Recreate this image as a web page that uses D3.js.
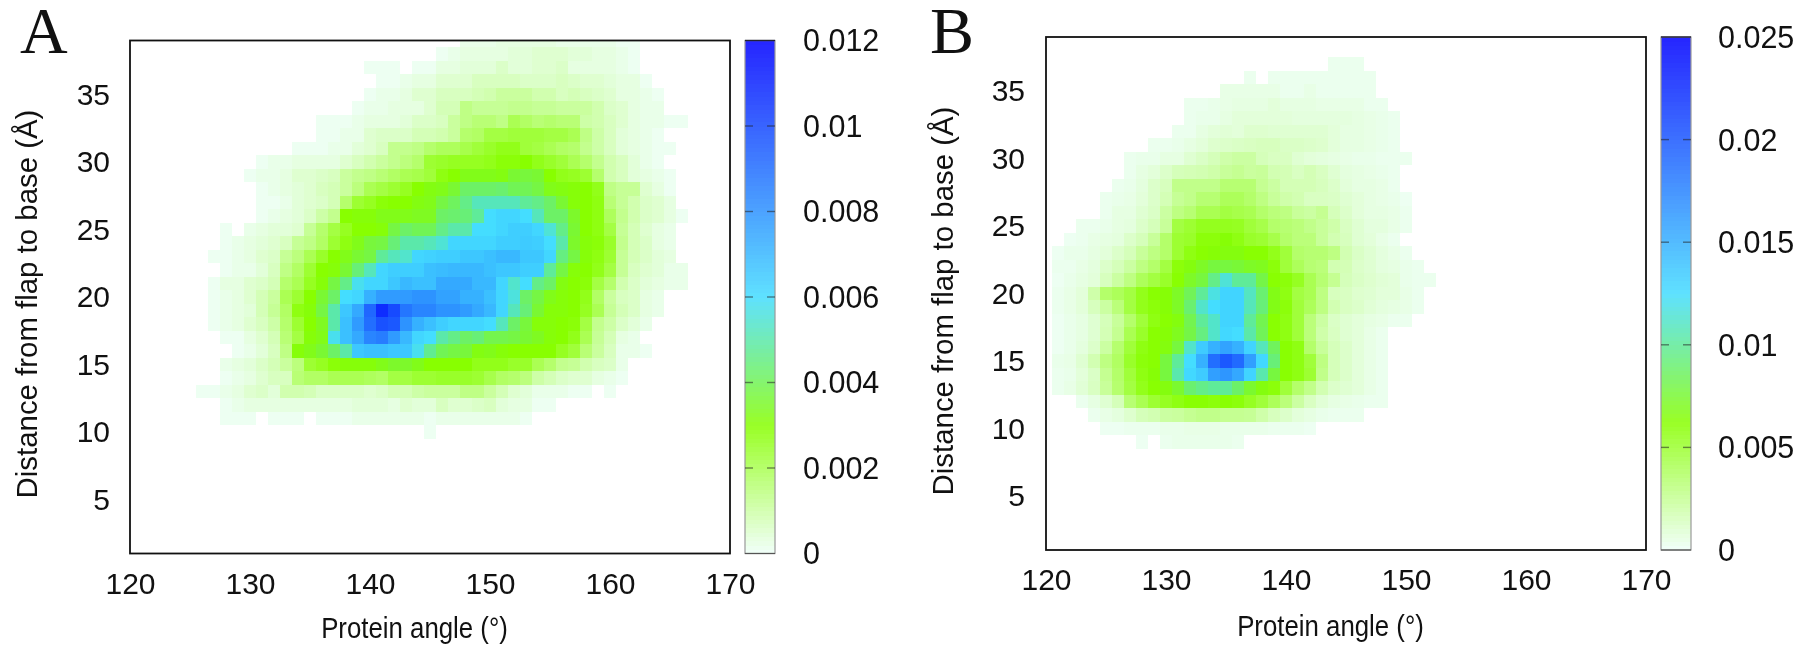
<!DOCTYPE html>
<html><head><meta charset="utf-8">
<style>html,body{margin:0;padding:0;background:#fff}svg{display:block;background:#fff;filter:blur(0.55px)}text{font-family:"Liberation Sans",Arial,sans-serif;fill:#111}</style>
<script src="https://cdn.jsdelivr.net/npm/d3@7"></script></head><body><div id="c"></div>
<script>
// each row: [distance, first angle, densities x 1e-4 for consecutive angles]
const rowsA=[
[39,148,[2,2,2,3,3,3,3,3,2,2,2,2,2,1,1]],
[38,146,[1,2,3,3,3,3,4,4,5,5,5,4,4,3,3,2,1]],
[37,140,[1,1,1,0,1,1,3,3,4,4,4,6,4,4,5,5,6,3,3,3,3,2,1]],
[36,141,[1,1,2,3,3,5,5,5,7,7,7,7,6,6,6,7,6,5,5,4,3,3,1]],
[35,140,[1,2,2,3,5,5,7,7,7,8,9,11,11,11,9,9,7,8,7,6,5,3,3,2,1]],
[34,139,[1,2,2,3,3,3,5,8,8,14,12,12,12,13,13,12,12,11,11,11,9,6,5,3,2,2]],
[33,136,[1,1,1,2,3,3,3,4,6,6,7,11,14,16,16,14,20,18,16,17,16,16,10,9,7,5,3,2,2,1,1]],
[32,136,[1,1,2,2,5,6,6,6,8,8,9,11,17,18,22,22,23,23,23,22,22,20,14,10,7,4,3,2,1]],
[31,134,[1,1,1,2,2,4,5,7,13,13,14,17,19,19,21,23,25,27,27,23,22,20,18,17,13,10,7,4,3,2,1,1]],
[30,131,[1,2,2,3,3,3,3,5,7,9,11,13,15,17,24,25,26,26,26,27,29,29,30,27,25,23,20,17,13,9,7,4,2,1]],
[29,130,[1,2,2,3,5,5,6,7,11,13,14,16,18,20,21,23,28,30,33,33,33,32,36,37,36,30,27,26,24,17,9,7,4,3,2,1]],
[28,131,[1,2,3,4,5,7,8,11,15,20,22,24,26,30,32,33,36,42,42,42,43,40,40,38,33,32,31,30,27,14,12,12,5,3,1]],
[27,131,[1,1,2,4,5,6,8,17,24,26,29,30,30,32,33,38,41,46,52,52,52,52,48,46,42,36,31,30,28,16,12,9,6,5,3]],
[26,131,[1,2,3,4,6,10,13,30,31,31,33,33,33,34,34,42,43,44,48,60,62,62,60,52,42,42,35,30,28,19,13,9,6,5,3,1]],
[25,128,[1,0,2,3,4,4,5,12,17,22,26,30,30,31,38,42,40,40,46,50,50,60,60,62,64,64,62,55,46,36,30,28,22,12,8,5,3,2]],
[24,128,[1,2,3,4,5,7,12,14,18,24,28,33,37,38,44,50,50,52,55,62,62,62,62,64,64,65,64,60,50,35,31,29,25,13,8,6,3,2]],
[23,127,[1,1,2,3,5,6,12,15,20,25,30,33,36,38,48,52,54,62,63,64,64,66,66,68,70,70,66,66,62,45,38,31,28,24,12,8,6,4,3]],
[22,128,[1,2,2,4,7,14,18,24,30,31,36,44,52,62,64,64,64,68,69,70,70,70,68,66,66,64,64,48,38,31,30,27,22,12,7,5,4,2,2]],
[21,127,[1,3,3,5,6,8,17,20,26,31,38,46,58,62,62,66,70,68,68,74,74,74,70,70,62,54,60,46,42,32,30,29,22,17,9,6,4,3,2,2]],
[20,127,[1,2,3,5,8,11,20,24,30,36,42,60,62,72,78,78,78,80,80,76,76,72,72,68,62,56,42,38,33,31,30,27,18,11,7,6,3,2]],
[19,127,[1,2,3,4,8,12,18,28,31,38,50,66,74,92,108,100,88,84,84,80,80,78,74,70,62,52,44,36,31,31,30,26,20,12,8,6,3,2]],
[18,127,[1,2,3,5,7,10,17,24,30,34,50,68,78,90,98,96,80,72,68,64,62,62,62,60,52,42,37,31,31,30,29,22,13,10,6,4,2]],
[17,128,[1,1,3,5,8,16,22,31,33,58,68,74,84,86,78,70,62,60,50,46,42,44,39,39,38,36,34,31,30,27,20,12,8,3,2]],
[16,129,[1,2,4,7,14,31,33,36,42,50,66,68,68,66,66,58,47,40,38,37,32,33,31,30,30,30,30,26,23,16,11,7,2,2,1]],
[15,128,[2,3,4,6,8,11,15,24,26,29,31,31,31,33,35,35,33,30,30,30,30,27,27,27,25,25,20,17,13,12,9,7,6,2]],
[14,128,[1,2,3,5,7,7,16,18,18,20,20,20,19,18,22,22,24,24,25,25,25,24,21,18,17,15,10,8,6,5,5,3,2,1]],
[13,126,[1,1,2,3,5,6,4,9,9,8,6,6,6,6,5,6,8,8,10,11,11,11,14,14,11,8,5,4,2,2,2,1,1,0,1]],
[12,128,[1,2,3,3,3,3,3,3,3,3,3,4,4,4,3,5,4,4,7,5,5,6,7,4,3,3,1,1]],
[11,128,[1,1,1,0,1,1,1,0,1,1,1,2,2,2,2,2,2,1,2,2,2,2,2,2,2,1]],
[10,145,[1]]
];
const rowsB=[
[37,144,[3,3,3]],
[36,137,[3,0,3,3,3,3,3,3,3,3,3]],
[35,135,[5,5,5,5,5,3,3,5,3,3,3,3,3]],
[34,132,[3,3,4,5,6,6,6,8,6,6,6,5,5,5,5,3,3]],
[33,132,[3,4,4,6,8,8,8,8,8,7,7,7,7,7,6,5,4,3]],
[32,131,[3,3,6,8,9,8,11,11,10,10,10,10,10,8,6,6,5,4,3]],
[31,129,[3,3,4,6,8,11,12,13,14,15,15,13,13,12,11,8,6,6,5,4,3]],
[30,127,[3,4,4,6,6,10,13,16,20,22,22,16,14,14,10,8,7,6,5,4,4,3,3,3]],
[29,127,[3,6,8,12,16,17,18,20,24,26,23,24,18,17,14,17,14,10,7,6,5,4,3]],
[28,126,[3,4,7,12,15,28,28,28,28,34,34,34,26,22,17,17,17,15,12,8,6,6,5,3]],
[27,125,[3,4,5,8,12,17,25,28,34,34,40,40,36,30,24,20,18,14,14,13,10,8,6,5,4,2]],
[26,125,[3,6,6,10,13,22,30,34,42,42,46,44,42,36,32,30,24,22,26,16,12,8,6,6,5,3]],
[25,123,[3,3,4,6,7,12,16,24,46,50,55,55,55,54,48,44,36,34,32,28,24,20,14,10,7,7,5,3]],
[24,122,[2,3,5,6,7,12,16,24,36,50,52,60,60,64,58,52,50,44,36,32,32,24,18,15,10,8,5,3]],
[23,121,[2,4,4,6,8,12,16,24,30,36,50,58,62,64,66,66,62,62,56,48,36,34,34,30,18,13,10,7,5,3]],
[22,121,[3,3,5,7,12,16,22,30,36,46,60,66,72,78,78,76,72,70,60,48,40,34,32,18,17,12,10,7,6,4,3]],
[21,121,[2,4,6,8,15,22,30,40,46,52,62,72,78,96,115,100,100,80,62,60,54,42,34,26,16,13,11,9,8,4,3,3]],
[20,121,[3,5,8,20,36,40,46,56,62,64,72,84,100,118,130,130,110,90,68,58,46,42,30,15,14,11,10,8,8,5,3]],
[19,121,[3,5,8,15,22,32,46,56,60,64,72,90,112,125,130,130,108,92,68,60,48,40,30,18,14,12,9,7,6,5,3]],
[18,121,[2,4,6,10,16,24,36,48,58,62,66,82,100,112,130,130,100,82,62,58,48,32,22,13,10,8,6,5,3,3]],
[17,121,[2,4,6,10,17,26,42,52,62,64,70,80,94,112,128,125,104,84,62,58,48,32,20,14,10,8,5,3]],
[16,121,[2,4,7,12,22,35,48,58,62,66,78,112,135,150,158,150,130,108,85,62,58,36,24,16,12,8,5,3]],
[15,121,[4,5,10,18,30,38,52,60,62,78,100,125,150,188,200,190,160,128,92,62,58,48,30,16,12,8,5,3]],
[14,121,[3,4,8,13,26,36,48,58,64,78,105,128,135,160,165,155,130,105,78,62,58,50,28,16,12,8,5,3]],
[13,121,[3,5,9,14,24,35,46,56,62,66,74,90,96,100,100,88,74,66,60,48,36,28,18,12,10,8,5,3]],
[12,123,[3,6,10,16,34,42,50,54,58,62,62,60,62,60,54,48,40,32,22,14,9,6,5,4,3,3]],
[11,124,[3,5,7,11,16,18,22,23,26,28,28,26,26,25,20,15,12,8,6,4,3,3,3]],
[10,125,[2,2,3,3,3,4,4,5,5,5,4,4,4,4,3,3,3,2]],
[9,128,[2,0,3,4,4,4,4,4,3]]
];
const xTicks=[120,130,140,150,160,170];
const yTicks=[5,10,15,20,25,30,35];
const colorTicksA=[0,0.002,0.004,0.006,0.008,0.01,0.012];
const colorTicksB=[0,0.005,0.01,0.015,0.02,0.025];
const paletteColors=["#f0fffa","#88ff00","#44ddff","#0000ff"];
const paletteStops=[0,0.25,0.5,1];
const xTitle="Protein angle (°)", yTitle="Distance from flap to base (Å)";

const svg=d3.select("#c").append("svg").attr("width",1800).attr("height",653);
const F=30, FB=30.5, FT=29;
function panel(o){
  const g=svg.append("g");
  const x=d3.scaleLinear().domain([120,170]).range([o.left,o.left+600]);
  const y=d3.scaleLinear().domain([1,39]).range([o.bottom,o.top]);
  const color=d3.scaleLinear().domain(paletteStops.map(s=>s*o.max)).range(paletteColors).clamp(true);
  const cells=o.rows.flatMap(([d,a0,vals])=>vals.map((v,i)=>({a:a0+i,d,v:v*1e-4}))).filter(c=>c.v>0);
  g.append("clipPath").attr("id","clip"+o.label).append("rect")
    .attr("x",o.left).attr("y",o.top).attr("width",600).attr("height",o.bottom-o.top);
  g.append("g").attr("clip-path",`url(#clip${o.label})`).attr("shape-rendering","crispEdges")
    .selectAll("rect").data(cells).join("rect")
    .attr("x",c=>x(c.a-0.5)).attr("width",c=>x(c.a+0.5)-x(c.a-0.5))
    .attr("y",c=>y(c.d+0.5)).attr("height",c=>y(c.d-0.5)-y(c.d+0.5))
    .attr("fill",c=>color(c.v));
  g.append("rect").attr("x",o.left).attr("y",o.top).attr("width",600).attr("height",o.bottom-o.top)
    .attr("fill","none").attr("stroke","#111").attr("stroke-width",1.8);
  const ax=g.append("g").attr("transform",`translate(0,${o.bottom})`)
    .call(d3.axisBottom(x).tickValues(xTicks).tickSize(0).tickPadding(o.xTickPad).tickFormat(d3.format("d")));
  ax.select(".domain").remove();
  const ay=g.append("g").attr("transform",`translate(${o.left},0)`)
    .call(d3.axisLeft(y).tickValues(yTicks).tickSize(0).tickPadding(o.left-o.tickRight).tickFormat(d3.format("d")));
  ay.select(".domain").remove();
  g.selectAll(".tick text").attr("font-size",F).attr("font-family","'Liberation Sans'").attr("fill","#111");
  g.append("text").attr("transform",`translate(${o.xTitleX},${o.xTitleY}) scale(0.89,1)`).attr("text-anchor","middle").attr("font-size",FT).text(xTitle);
  g.append("text").attr("transform",`translate(${o.yTitleX},${o.yTitleC}) rotate(-90)`).attr("text-anchor","middle").attr("font-size",FT+0.4).text(yTitle);
  g.append("text").attr("x",o.letterX).attr("y",53).attr("font-size",66).style("font-family","'Liberation Serif'").attr("fill","#000").text(o.label);
  // colour bar
  const cb=d3.scaleLinear().domain([0,o.max]).range([o.bottom,o.top]);
  const n=120, steps=d3.range(n).map(i=>(i+0.5)/n*o.max);
  const bar=g.append("g");
  bar.append("g").attr("shape-rendering","crispEdges").attr("opacity",0.85).selectAll("rect").data(steps).join("rect")
    .attr("x",o.barLeft).attr("width",30)
    .attr("y",v=>cb(v+o.max/n/2)).attr("height",v=>cb(v-o.max/n/2)-cb(v+o.max/n/2)+0.6)
    .attr("fill",v=>color(v));
  bar.append("rect").attr("x",o.barLeft).attr("y",o.top).attr("width",30).attr("height",o.bottom-o.top)
    .attr("fill","none").attr("stroke","#999").attr("stroke-width",1.2);
  bar.append("line").attr("x1",o.barLeft).attr("x2",o.barLeft+30).attr("y1",o.top).attr("y2",o.top).attr("stroke","#223").attr("stroke-width",1.4);
  bar.append("line").attr("x1",o.barLeft).attr("x2",o.barLeft+30).attr("y1",o.bottom).attr("y2",o.bottom).attr("stroke","#555").attr("stroke-width",1.2);
  o.ticks.forEach(t=>{
    if(t>0&&t<o.max){[[0,8],[22,30]].forEach(([a,b])=>bar.append("line")
      .attr("x1",o.barLeft+a).attr("x2",o.barLeft+b).attr("y1",cb(t)).attr("y2",cb(t))
      .attr("stroke","#222").attr("stroke-opacity",.55).attr("stroke-width",1.4));}
    bar.append("text").attr("x",o.barLabel).attr("y",cb(t)).attr("dy","0.36em").attr("font-size",FB).text(t===0?"0":String(t));
  });
}
panel({label:"A",rows:rowsA,max:0.012,ticks:colorTicksA,left:130,top:40.5,bottom:553.5,barLeft:745,barLabel:803,tickRight:110,xTickPad:19,xTitleX:414.5,xTitleY:638,yTitleX:37,yTitleC:304,letterX:20});
panel({label:"B",rows:rowsB,max:0.025,ticks:colorTicksB,left:1046,top:37,bottom:550,barLeft:1661,barLabel:1718,tickRight:1025,xTickPad:19,xTitleX:1330.5,xTitleY:636,yTitleX:953,yTitleC:301,letterX:930});
</script></body></html>
